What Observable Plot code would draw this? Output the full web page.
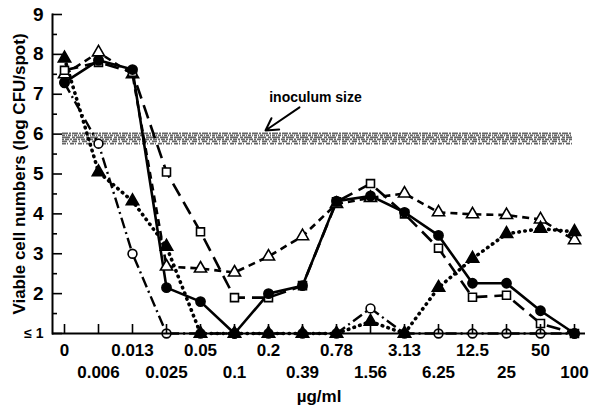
<!DOCTYPE html>
<html><head><meta charset="utf-8">
<script src="https://cdn.jsdelivr.net/npm/d3@7"></script>
<script src="https://cdn.jsdelivr.net/npm/@observablehq/plot@0.6"></script>
<style>body{margin:0;background:#fff}</style>
</head><body><div id="chart"></div>
<script>
// Concentrations (µg/ml), evenly spaced categories
const concentrations = ["0","0.006","0.013","0.025","0.05","0.1","0.2","0.39","0.78","1.56","3.13","6.25","12.5","25","50","100"];
const topRowLabels = ["0","0.013","0.05","0.2","0.78","3.13","12.5","50"];
const bottomRowLabels = ["0.006","0.025","0.1","0.39","1.56","6.25","25","100"];
// Viable cell numbers (log CFU/spot)
const filledCircles   = [7.3, 7.85, 7.62, 2.15, 1.8, 1, 2.0, 2.2, 4.32, 4.45, 4.04, 3.46, 2.26, 2.26, 1.57, 1];
const openSquares     = [7.6, 7.8, 7.55, 5.05, 3.55, 1.9, 1.9, 2.2, 4.3, 4.76, 4.0, 3.14, 1.91, 1.96, 1.25, 1];
const openTriangles   = [7.5, 8.05, 7.5, 2.68, 2.63, 2.53, 2.93, 3.44, 4.25, 4.4, 4.51, 4.04, 3.99, 3.97, 3.86, 3.34];
const filledTriangles = [7.9, 5.05, 4.32, 3.18, 1, 1, 1, 1, 1, 1.3, 1, 2.15, 2.88, 3.5, 3.63, 3.55];
const openCircles     = [7.28, 5.76, 3.0, 1, 1, 1, 1, 1, 1, 1.63, 1, 1, 1, 1, 1, 1];
const yMajor = [1,2,3,4,5,6,7,8,9];
const yMinor = [1.5,2.5,3.5,4.5,5.5,6.5,7.5,8.5];
const inoculumLevels = [6.02, 5.97, 5.92, 5.87, 5.82, 5.76];
const annotation = {label: "inoculum size", x: "0.39", y: 6.92, ax1: "0.39", ay1: 6.67, ax2: "0.2", ay2: 6.09};

const seriesDefs = [
  {name: "openTriangles", values: openTriangles, dash: "7,5", width: 2.6, symbol: "triangle", fill: "white", r: 4.5},
  {name: "openSquares", values: openSquares, dash: "14,7", width: 2.6, symbol: "square", fill: "white", r: 4.5},
  {name: "openCircles", values: openCircles, dash: "11,4,2,4", width: 2.4, symbol: "circle", fill: "white", r: 4.4},
  {name: "filledTriangles", values: filledTriangles, dash: "0.5,5.5", width: 3.6, symbol: "triangle", fill: "black", r: 4.6},
  {name: "filledCircles", values: filledCircles, dash: null, width: 2.6, symbol: "circle", fill: "black", r: 4.6}
];
const rows = s => s.values.map((v, i) => ({x: concentrations[i], y: v}));

const bandDashes = ["6,1,2,1", "3,1,1,1", "8,2,3,1", "2,1,4,1", "5,2,1,2", "4,1,1,2"];

const marks = [];
inoculumLevels.forEach((lv, k) => marks.push(
  Plot.ruleY([lv], {x1: () => concentrations[0], x2: () => concentrations[concentrations.length - 1], dx: -2,
    stroke: "#666", strokeWidth: 1.7, strokeDasharray: bandDashes[k]})
));
seriesDefs.forEach(s => marks.push(
  Plot.line(rows(s), {x: "x", y: "y", stroke: "black", strokeWidth: s.width,
    strokeDasharray: s.dash, strokeLinecap: s.dash && s.dash.startsWith("0.5") ? "round" : "butt", strokeLinejoin: "round"})
));
seriesDefs.forEach(s => marks.push(
  Plot.dot(rows(s), {x: "x", y: "y", symbol: s.symbol, r: s.r, fill: s.fill, stroke: "black", strokeWidth: 1.6})
));
marks.push(
  Plot.text([annotation], {x: d => d.x, y: d => d.y, text: d => d.label, dx: 13, fontSize: 14, fontWeight: "bold"}),
  Plot.arrow([annotation], {x1: d => d.ax1, y1: d => d.ay1, x2: d => d.ax2, y2: d => d.ay2, dx: -3,
    stroke: "black", strokeWidth: 2, headLength: 11}),
  Plot.ruleY([1], {stroke: "black", strokeWidth: 2}),
  Plot.frame({anchor: "left", stroke: "black", strokeWidth: 2}),
  // inward ticks
  Plot.axisY(yMajor, {tickSize: 10, dx: 10, tickFormat: () => "", strokeWidth: 1.6, label: null}),
  Plot.axisY(yMinor, {tickSize: 5, dx: 5, tickFormat: () => "", strokeWidth: 1.6, label: null}),
  Plot.axisX(concentrations, {tickSize: 9, dy: -9, tickFormat: () => "", strokeWidth: 1.6, label: null}),
  // labels
  Plot.axisY(yMajor.slice(1), {tickSize: 0, tickPadding: 9, fontSize: 19, fontWeight: "bold", label: null}),
  Plot.axisY([1], {tickSize: 0, tickPadding: 9, fontSize: 14, fontWeight: "bold", tickFormat: () => "≤ 1", label: null}),
  Plot.axisY([], {tickSize: 0, fontSize: 17, fontWeight: "bold", label: "Viable cell numbers (log CFU/spot)", labelArrow: "none", labelAnchor: "center", labelOffset: 40}),
  Plot.axisX(topRowLabels, {tickSize: 0, tickPadding: 10, fontSize: 17, fontWeight: "bold", label: null}),
  Plot.axisX(bottomRowLabels, {tickSize: 0, tickPadding: 32, fontSize: 17, fontWeight: "bold", label: "µg/ml", labelArrow: "none", labelAnchor: "center", labelOffset: 68})
);

const plot = Plot.plot({
  width: 591, height: 408,
  marginLeft: 52, marginRight: 6, marginTop: 14, marginBottom: 75,
  style: {fontFamily: "'Liberation Sans', Arial, Helvetica, sans-serif", background: "white", color: "black"},
  x: {type: "point", domain: concentrations, padding: 0, insetLeft: 11, insetRight: 10, label: null},
  y: {domain: [1, 9], label: null},
  marks
});
document.getElementById("chart").appendChild(plot);
</script>
</body></html>
